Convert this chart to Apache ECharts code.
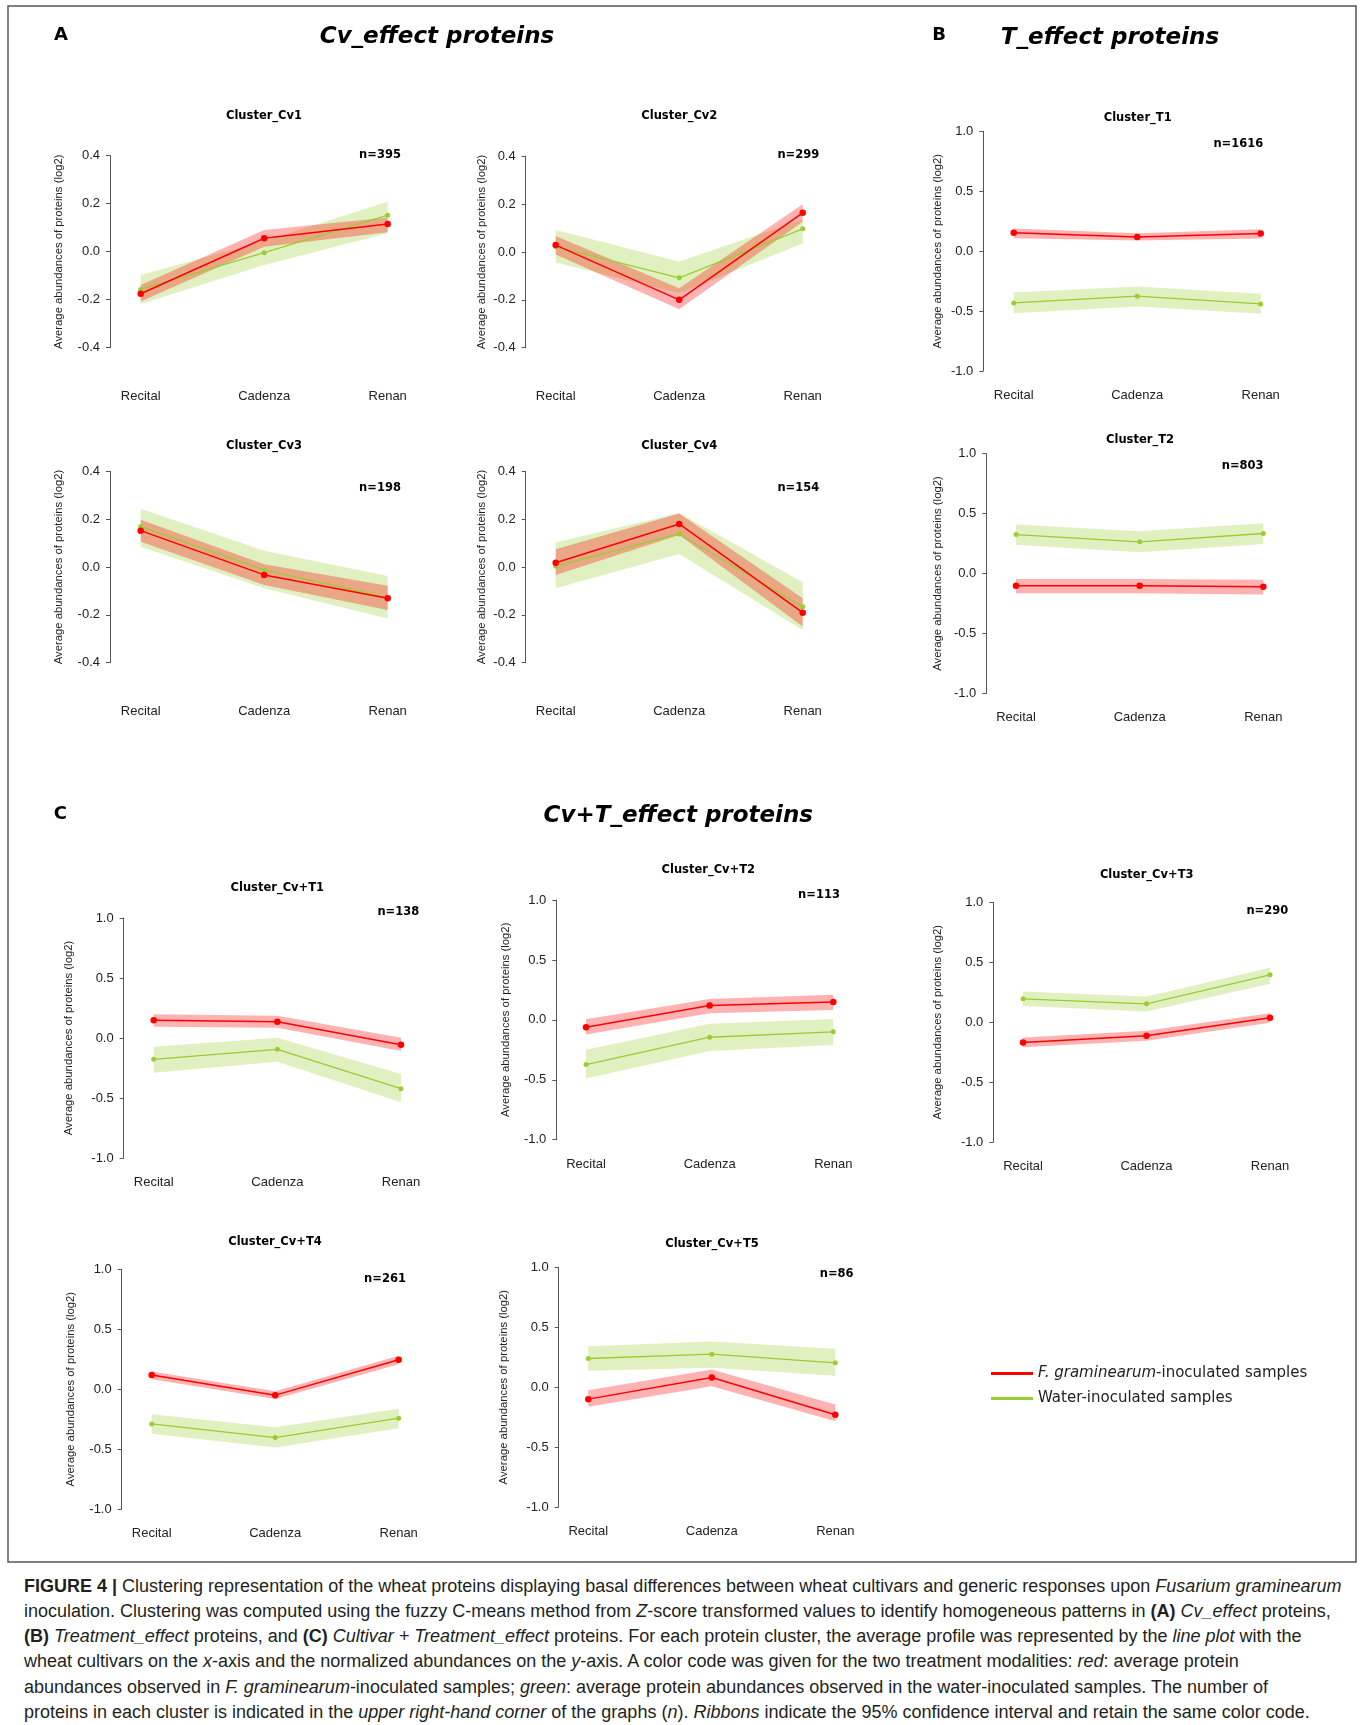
<!DOCTYPE html>
<html><head><meta charset="utf-8">
<script src="https://cdn.jsdelivr.net/npm/echarts@6/dist/echarts.min.js"></script>
<style>
html,body{margin:0;padding:0;background:#fff;}
#chart{position:absolute;left:0;top:0;width:1360px;height:1570px;}
#caption{position:absolute;left:24px;top:1573.5px;font-family:"Liberation Sans",Arial,sans-serif;font-size:18px;line-height:25.3px;color:#231f20;white-space:nowrap;}
</style></head><body>
<div id="chart"></div>
<div id="caption">
<b>FIGURE 4 |</b> Clustering representation of the wheat proteins displaying basal differences between wheat cultivars and generic responses upon <i>Fusarium graminearum</i><br>
inoculation. Clustering was computed using the fuzzy C-means method from <i>Z</i>-score transformed values to identify homogeneous patterns in <b>(A)</b> <i>Cv_effect</i> proteins,<br>
<b>(B)</b> <i>Treatment_effect</i> proteins, and <b>(C)</b> <i>Cultivar + Treatment_effect</i> proteins. For each protein cluster, the average profile was represented by the <i>line plot</i> with the<br>
wheat cultivars on the <i>x</i>-axis and the normalized abundances on the <i>y</i>-axis. A color code was given for the two treatment modalities: <i>red</i>: average protein<br>
abundances observed in <i>F. graminearum</i>-inoculated samples; <i>green</i>: average protein abundances observed in the water-inoculated samples. The number of<br>
proteins in each cluster is indicated in the <i>upper right-hand corner</i> of the graphs (<i>n</i>). <i>Ribbons</i> indicate the 95% confidence interval and retain the same color code.
</div>
<script>
// ---------------- DATA ----------------
const categories = ['Recital', 'Cadenza', 'Renan'];
const FG_NAME = 'F. graminearum-inoculated samples';
const WATER_NAME = 'Water-inoculated samples';

// Cluster_Cv1 (n=395)
const cv1_fg = [-0.175, 0.056, 0.115];
const cv1_fgLow = [-0.208, 0.021, 0.081];
const cv1_fgHigh = [-0.139, 0.090, 0.143];
const cv1_water = [-0.157, -0.004, 0.152];
const cv1_waterLow = [-0.218, -0.055, 0.077];
const cv1_waterHigh = [-0.097, 0.045, 0.208];
// Cluster_Cv2 (n=299)
const cv2_fg = [0.029, -0.200, 0.164];
const cv2_fgLow = [-0.010, -0.239, 0.126];
const cv2_fgHigh = [0.067, -0.151, 0.200];
const cv2_water = [0.022, -0.108, 0.097];
const cv2_waterLow = [-0.044, -0.172, 0.036];
const cv2_waterHigh = [0.092, -0.040, 0.136];
// Cluster_Cv3 (n=198)
const cv3_fg = [0.152, -0.033, -0.131];
const cv3_fgLow = [0.106, -0.075, -0.180];
const cv3_fgHigh = [0.197, 0.012, -0.078];
const cv3_water = [0.169, -0.012, -0.128];
const cv3_waterLow = [0.085, -0.089, -0.215];
const cv3_waterHigh = [0.243, 0.068, -0.038];
// Cluster_Cv4 (n=154)
const cv4_fg = [0.018, 0.180, -0.191];
const cv4_fgLow = [-0.033, 0.134, -0.249];
const cv4_fgHigh = [0.074, 0.224, -0.131];
const cv4_water = [0.004, 0.138, -0.166];
const cv4_waterLow = [-0.089, 0.054, -0.263];
const cv4_waterHigh = [0.102, 0.226, -0.064];
// Cluster_T1 (n=1616)
const t1_fg = [0.153, 0.119, 0.147];
const t1_fgLow = [0.108, 0.089, 0.105];
const t1_fgHigh = [0.189, 0.150, 0.183];
const t1_water = [-0.432, -0.376, -0.440];
const t1_waterLow = [-0.518, -0.462, -0.523];
const t1_waterHigh = [-0.345, -0.295, -0.356];
// Cluster_T2 (n=803)
const t2_fg = [-0.103, -0.103, -0.111];
const t2_fgLow = [-0.164, -0.164, -0.175];
const t2_fgHigh = [-0.045, -0.045, -0.053];
const t2_water = [0.325, 0.264, 0.334];
const t2_waterLow = [0.239, 0.178, 0.247];
const t2_waterHigh = [0.409, 0.353, 0.420];
// Cluster_Cv+T1 (n=138)
const cvt1_fg = [0.147, 0.136, -0.056];
const cvt1_fgLow = [0.094, 0.086, -0.108];
const cvt1_fgHigh = [0.197, 0.186, 0.003];
const cvt1_water = [-0.178, -0.094, -0.422];
const cvt1_waterLow = [-0.289, -0.197, -0.536];
const cvt1_waterHigh = [-0.072, 0.003, -0.300];
// Cluster_Cv+T2 (n=113)
const cvt2_fg = [-0.061, 0.120, 0.148];
const cvt2_fgLow = [-0.122, 0.056, 0.083];
const cvt2_fgHigh = [0.006, 0.175, 0.209];
const cvt2_water = [-0.373, -0.145, -0.100];
const cvt2_waterLow = [-0.490, -0.259, -0.209];
const cvt2_waterHigh = [-0.250, -0.033, 0.008];
// Cluster_Cv+T3 (n=290)
const cvt3_fg = [-0.170, -0.114, 0.036];
const cvt3_fgLow = [-0.209, -0.156, -0.006];
const cvt3_fgHigh = [-0.128, -0.072, 0.075];
const cvt3_water = [0.195, 0.153, 0.395];
const cvt3_waterLow = [0.134, 0.089, 0.320];
const cvt3_waterHigh = [0.256, 0.214, 0.453];
// Cluster_Cv+T4 (n=261)
const cvt4_fg = [0.119, -0.050, 0.245];
const cvt4_fgLow = [0.083, -0.083, 0.208];
const cvt4_fgHigh = [0.147, -0.017, 0.278];
const cvt4_water = [-0.290, -0.404, -0.242];
const cvt4_waterLow = [-0.373, -0.487, -0.326];
const cvt4_waterHigh = [-0.209, -0.317, -0.164];
// Cluster_Cv+T5 (n=86)
const cvt5_fg = [-0.100, 0.081, -0.231];
const cvt5_fgLow = [-0.164, 0.008, -0.284];
const cvt5_fgHigh = [-0.025, 0.148, -0.145];
const cvt5_water = [0.239, 0.275, 0.203];
const cvt5_waterLow = [0.136, 0.161, 0.095];
const cvt5_waterHigh = [0.342, 0.381, 0.320];

const clusterTitles = ['Cluster_Cv1','Cluster_Cv2','Cluster_Cv3','Cluster_Cv4','Cluster_T1','Cluster_T2',
  'Cluster_Cv+T1','Cluster_Cv+T2','Cluster_Cv+T3','Cluster_Cv+T4','Cluster_Cv+T5'];
const clusterCounts = [395, 299, 198, 154, 1616, 803, 138, 113, 290, 261, 86];
const yTicksSmall = [-0.4, 0.4, 0.2];   // min, max, interval
const yTicksLarge = [-1.0, 1.0, 0.5];

const clusterData = [
  [cv1_fg, cv1_fgLow, cv1_fgHigh, cv1_water, cv1_waterLow, cv1_waterHigh, yTicksSmall],
  [cv2_fg, cv2_fgLow, cv2_fgHigh, cv2_water, cv2_waterLow, cv2_waterHigh, yTicksSmall],
  [cv3_fg, cv3_fgLow, cv3_fgHigh, cv3_water, cv3_waterLow, cv3_waterHigh, yTicksSmall],
  [cv4_fg, cv4_fgLow, cv4_fgHigh, cv4_water, cv4_waterLow, cv4_waterHigh, yTicksSmall],
  [t1_fg, t1_fgLow, t1_fgHigh, t1_water, t1_waterLow, t1_waterHigh, yTicksLarge],
  [t2_fg, t2_fgLow, t2_fgHigh, t2_water, t2_waterLow, t2_waterHigh, yTicksLarge],
  [cvt1_fg, cvt1_fgLow, cvt1_fgHigh, cvt1_water, cvt1_waterLow, cvt1_waterHigh, yTicksLarge],
  [cvt2_fg, cvt2_fgLow, cvt2_fgHigh, cvt2_water, cvt2_waterLow, cvt2_waterHigh, yTicksLarge],
  [cvt3_fg, cvt3_fgLow, cvt3_fgHigh, cvt3_water, cvt3_waterLow, cvt3_waterHigh, yTicksLarge],
  [cvt4_fg, cvt4_fgLow, cvt4_fgHigh, cvt4_water, cvt4_waterLow, cvt4_waterHigh, yTicksLarge],
  [cvt5_fg, cvt5_fgLow, cvt5_fgHigh, cvt5_water, cvt5_waterLow, cvt5_waterHigh, yTicksLarge]
];

// ---------------- LAYOUT (pixels) ----------------
// axisX, firstCat, lastCat, yTop, yBottom, titleX, titleY, nX, nY, labelY, nameCenterX
const layout = [
  [110,   140.7, 387.7, 155.7, 347.7, 264,   114,   380,   153,   395.7, 58.7],
  [525.7, 555.7, 802.7, 156.3, 347.7, 679.3, 114.3, 798.3, 152.7, 395.3, 481.7],
  [110,   140.7, 387.7, 471.3, 662.7, 264,   444.3, 380,   485.7, 710.3, 58.7],
  [525.7, 555.7, 802.7, 471.3, 662.7, 679.3, 444.3, 798.3, 485.7, 710.3, 481.7],
  [983.3, 1013.7,1260.7,131.3, 371,   1137.7,116,   1238.3,141.7, 394.3, 938.3],
  [986.3, 1016,  1263.3,453.7, 693.3, 1140,  438.3, 1242.7,464.3, 716.7, 938],
  [123.7, 153.7, 401,   918,   1158,  277.3, 886,   398.3, 910.3, 1181.7,68.7],
  [556.3, 586,   833.3, 900,   1139.7,708.3, 868,   819,   892.7, 1163.3,505.8],
  [993.3, 1023,  1270,  902.3, 1142,  1146.7,873,   1267.3,909.3, 1165.7,938],
  [121.7, 151.7, 398.7, 1269.3,1509,  275,   1240.3,385,   1276.7,1532.7,71.3],
  [558.7, 588.3, 835.3, 1267.3,1507,  712,   1242.3,836.7, 1272.3,1530.7,504]
];
const TEXT_DY = 2;  // vertical correction for middle-aligned DejaVu text

const RED = '#ff0000';
const GREEN = '#9acd32';
const RED_BAND = 'rgba(255,0,0,0.3)';
const GREEN_BAND = 'rgba(154,205,50,0.3)';
const TICK_FONT = '"Liberation Sans", Arial, sans-serif';
const TITLE_FONT = '"DejaVu Sans", sans-serif';

const grids = [], xAxes = [], yAxes = [], series = [], graphics = [];

function band(idx, lo, hi, color, key) {
  return [
    { type: 'line', xAxisIndex: idx, yAxisIndex: idx, stack: key, stackStrategy: 'all',
      data: lo, symbol: 'none', lineStyle: { opacity: 0 }, silent: true, z: 1 },
    { type: 'line', xAxisIndex: idx, yAxisIndex: idx, stack: key, stackStrategy: 'all',
      data: hi.map((h, i) => +(h - lo[i]).toFixed(4)), symbol: 'none',
      lineStyle: { opacity: 0 }, areaStyle: { color: color, opacity: 1 }, silent: true, z: 1 }
  ];
}

function label(text, x, y, font) {
  return { type: 'text', x: x, y: y + TEXT_DY, silent: true,
    style: { text: text, font: font, fill: '#000', textAlign: 'center', textVerticalAlign: 'middle',
      align: 'center', verticalAlign: 'middle' } };
}

clusterData.forEach((d, i) => {
  const [fg, fgLo, fgHi, w, wLo, wHi, ticks] = d;
  const [axisX, c0, c2, yTop, yBot, tX, tY, nX, nY, labY, nameX] = layout[i];
  grids.push({ left: c0, top: yTop, width: c2 - c0, height: yBot - yTop });
  xAxes.push({
    gridIndex: i, type: 'category', data: categories, boundaryGap: false,
    axisLine: { show: false }, axisTick: { show: false }, splitLine: { show: false },
    axisLabel: { margin: labY - yBot - 5.5, fontSize: 13, fontFamily: TICK_FONT, color: '#222' }
  });
  yAxes.push({
    gridIndex: i, type: 'value', min: ticks[0], max: ticks[1], interval: ticks[2],
    offset: c0 - axisX,
    axisLine: { show: true, lineStyle: { color: '#555', width: 1 } },
    axisTick: { show: true, length: 4, lineStyle: { color: '#555' } },
    splitLine: { show: false },
    axisLabel: { margin: 10, fontSize: 13, fontFamily: TICK_FONT, color: '#222',
      formatter: v => (Math.abs(v) < 1e-9 ? 0 : v).toFixed(1) },
    name: 'Average abundances of proteins (log2)', nameLocation: 'middle', nameRotate: 90,
    nameGap: axisX - nameX - 5.5,
    nameTextStyle: { fontSize: 11.3, fontFamily: TICK_FONT, color: '#222' }
  });
  series.push(...band(i, wLo, wHi, GREEN_BAND, 'w' + i));
  series.push(...band(i, fgLo, fgHi, RED_BAND, 'r' + i));
  series.push({ type: 'line', name: WATER_NAME, xAxisIndex: i, yAxisIndex: i, data: w,
    symbol: 'circle', symbolSize: 5, showSymbol: true, itemStyle: { color: GREEN },
    lineStyle: { color: GREEN, width: 1.3 }, z: 3 });
  series.push({ type: 'line', name: FG_NAME, xAxisIndex: i, yAxisIndex: i, data: fg,
    symbol: 'circle', symbolSize: 6.5, showSymbol: true, itemStyle: { color: RED },
    lineStyle: { color: RED, width: 1.5 }, z: 4 });
  graphics.push(label(clusterTitles[i], tX, tY, 'bold 11.5px ' + TITLE_FONT));
  graphics.push(label('n=' + clusterCounts[i], nX, nY, 'bold 11.5px ' + TITLE_FONT));
});

graphics.push(label('A', 61, 33, 'bold 18px ' + TITLE_FONT));
graphics.push(label('B', 939, 33.3, 'bold 18px ' + TITLE_FONT));
graphics.push(label('C', 60.3, 812.3, 'bold 18px ' + TITLE_FONT));
graphics.push(label('Cv_effect proteins', 437, 35.5, 'italic bold 23px ' + TITLE_FONT));
graphics.push(label('T_effect proteins', 1110, 35.7, 'italic bold 23px ' + TITLE_FONT));
graphics.push(label('Cv+T_effect proteins', 678.3, 814, 'italic bold 23px ' + TITLE_FONT));
graphics.push({ type: 'rect', silent: true, z: -1,
  shape: { x: 8, y: 6, width: 1348, height: 1556 },
  style: { fill: 'none', stroke: '#555', lineWidth: 1.5 } });

const chart = echarts.init(document.getElementById('chart'), null, { renderer: 'canvas' });
chart.setOption({
  animation: false,
  backgroundColor: '#fff',
  grid: grids, xAxis: xAxes, yAxis: yAxes, series: series,
  graphic: { elements: graphics },
  legend: {
    orient: 'vertical', left: 986, top: 1361, itemWidth: 42, itemHeight: 3, itemGap: 10,
    icon: 'rect', selectedMode: false, data: [FG_NAME, WATER_NAME],
    formatter: n => n === FG_NAME ? '{i|F. graminearum}-inoculated samples' : n,
    textStyle: { fontFamily: TITLE_FONT, fontSize: 15, color: '#222',
      rich: { i: { fontStyle: 'italic', fontFamily: TITLE_FONT, fontSize: 15, color: '#222' } } }
  }
});
</script>
</body></html>
